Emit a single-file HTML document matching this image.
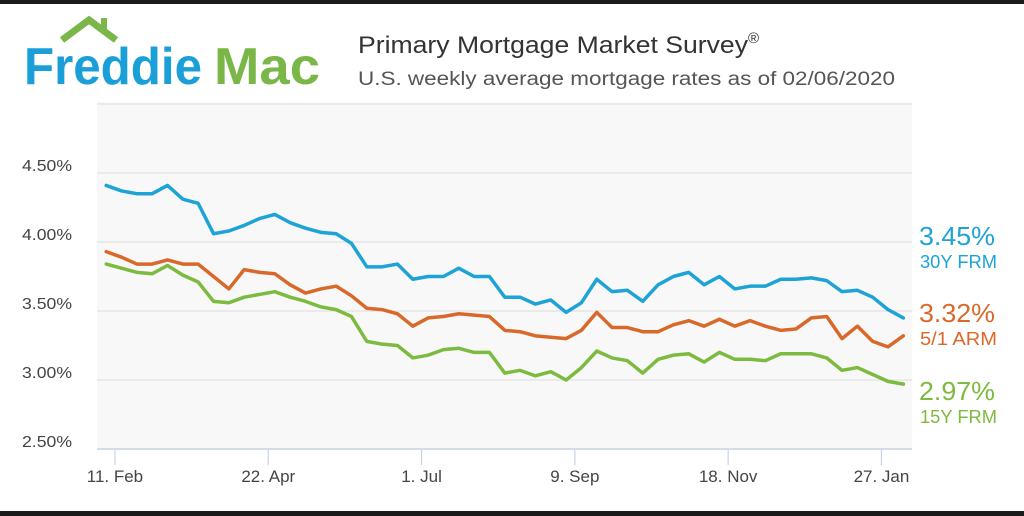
<!DOCTYPE html>
<html><head><meta charset="utf-8">
<style>
body{margin:0;width:1024px;height:516px;background:#fff;overflow:hidden;font-family:"Liberation Sans",sans-serif;position:relative}
.bar{position:absolute;left:0;width:1024px;background:#1a1a1a}
</style></head>
<body>
<div class="bar" style="top:0;height:4px"></div>
<div class="bar" style="top:511px;height:5px"></div>
<svg id="chart" width="1024" height="516" style="position:absolute;left:0;top:0">
  <g>
    <polyline points="62,40 89,20 116,40" fill="none" stroke="#7ab648" stroke-width="7" stroke-linejoin="miter"/>
    <rect x="101" y="18" width="6" height="12" fill="#7ab648"/>
    <text x="24" y="84" font-size="52" font-weight="bold" fill="#1b9fd8" textLength="178" lengthAdjust="spacingAndGlyphs">Freddie</text>
    <text x="214" y="84" font-size="52" font-weight="bold" fill="#7ab648" textLength="106" lengthAdjust="spacingAndGlyphs">Mac</text>
  </g>
  <text x="358" y="53" font-size="24" fill="#333"><tspan textLength="390" lengthAdjust="spacingAndGlyphs">Primary Mortgage Market Survey</tspan><tspan font-size="15" dy="-10">®</tspan></text>
  <text x="358" y="85" font-size="19" fill="#555" textLength="537" lengthAdjust="spacingAndGlyphs">U.S. weekly average mortgage rates as of 02/06/2020</text>
  <rect x="97" y="102" width="815" height="348" fill="#f8f8f8"/>
  <g id="grid"></g><g id="xaxis"></g><g id="lines"></g><g id="labels"></g>
</svg>
<script>
const ticksY = [2.5,3.0,3.5,4.0,4.5,5.0];
const tickLabelsY = ["2.50%","3.00%","3.50%","4.00%","4.50%",""];
const tickIdx = [0.571,10.571,20.571,30.571,40.571,50.571];
const tickLabelsX = ["11. Feb","22. Apr","1. Jul","9. Sep","18. Nov","27. Jan"];
const frm30 = [4.41,4.37,4.35,4.35,4.41,4.31,4.28,4.06,4.08,4.12,4.17,4.20,4.14,4.10,4.07,4.06,3.99,3.82,3.82,3.84,3.73,3.75,3.75,3.81,3.75,3.75,3.60,3.60,3.55,3.58,3.49,3.56,3.73,3.64,3.65,3.57,3.69,3.75,3.78,3.69,3.75,3.66,3.68,3.68,3.73,3.73,3.74,3.72,3.64,3.65,3.60,3.51,3.45];
const arm51 = [3.93,3.89,3.84,3.84,3.87,3.84,3.84,3.75,3.66,3.80,3.78,3.77,3.69,3.63,3.66,3.68,3.61,3.52,3.51,3.48,3.39,3.45,3.46,3.48,3.47,3.46,3.36,3.35,3.32,3.31,3.30,3.36,3.49,3.38,3.38,3.35,3.35,3.40,3.43,3.39,3.44,3.39,3.43,3.39,3.36,3.37,3.45,3.46,3.30,3.39,3.28,3.24,3.32];
const frm15 = [3.84,3.81,3.78,3.77,3.83,3.76,3.71,3.57,3.56,3.60,3.62,3.64,3.60,3.57,3.53,3.51,3.46,3.28,3.26,3.25,3.16,3.18,3.22,3.23,3.20,3.20,3.05,3.07,3.03,3.06,3.00,3.09,3.21,3.16,3.14,3.05,3.15,3.18,3.19,3.13,3.20,3.15,3.15,3.14,3.19,3.19,3.19,3.16,3.07,3.09,3.04,2.99,2.97];
const seriesNames = ["30Y FRM","5/1 ARM","15Y FRM"];
const seriesKeys = ["frm-30y","arm-5-1","frm-15y"];
const colors = ["#1ea3d6","#d9692a","#7cbb3f"];
const NS="http://www.w3.org/2000/svg";
const X = i => 106.2 + i*15.33;
const Y = v => 449 - (v-2.5)*138;
function mk(tag, attrs, parent){const e=document.createElementNS(NS,tag);for(const k in attrs)e.setAttribute(k,attrs[k]);parent.appendChild(e);return e;}
const grid=document.getElementById('grid');
ticksY.forEach((t,i)=>{
  const y=Y(t);
  const l=mk('line',{x1:97,x2:912,y1:y,y2:y,stroke:i===0?'#c8d3e6':'#e2e2e2','stroke-width':i===0?1.5:1.2},grid);
  
  
  if(tickLabelsY[i]){
    const tx=mk('text',{x:72,y:y-2,'text-anchor':'end','font-size':16,fill:'#444',textLength:50,lengthAdjust:'spacingAndGlyphs'},grid);
    tx.textContent=tickLabelsY[i];
    
    
  }
});
const xa=document.getElementById('xaxis');
tickIdx.forEach((t,i)=>{
  const x=X(t);
  const l=mk('line',{x1:x,x2:x,y1:450,y2:465,stroke:'#c8d3e6','stroke-width':1.2},xa);
  
  
  const tx=mk('text',{x:x,y:482,'text-anchor':'middle','font-size':17,fill:'#444'},xa);
  tx.textContent=tickLabelsX[i];
  
  
});
const lines=document.getElementById('lines');
const labels=document.getElementById('labels');
[frm30,arm51,frm15].forEach((s,k)=>{
  const p=mk('polyline',{points:s.map((v,i)=>X(i)+','+Y(v)).join(' '),fill:'none',stroke:colors[k],'stroke-width':3.5,'stroke-linejoin':'round','stroke-linecap':'round'},lines);
  
  
  const last=s[s.length-1];
  const ly=[245,322,400][k];
  const t1=mk('text',{x:919,y:ly,'font-size':26,fill:colors[k],textLength:76,lengthAdjust:'spacingAndGlyphs'},labels);
  t1.textContent=last.toFixed(2)+'%';
  
  
  const t2=mk('text',{x:920,y:ly+23,'font-size':18,fill:colors[k],textLength:77,lengthAdjust:'spacingAndGlyphs'},labels);
  t2.textContent=seriesNames[k];
  
  
});
</script>
</body></html>
